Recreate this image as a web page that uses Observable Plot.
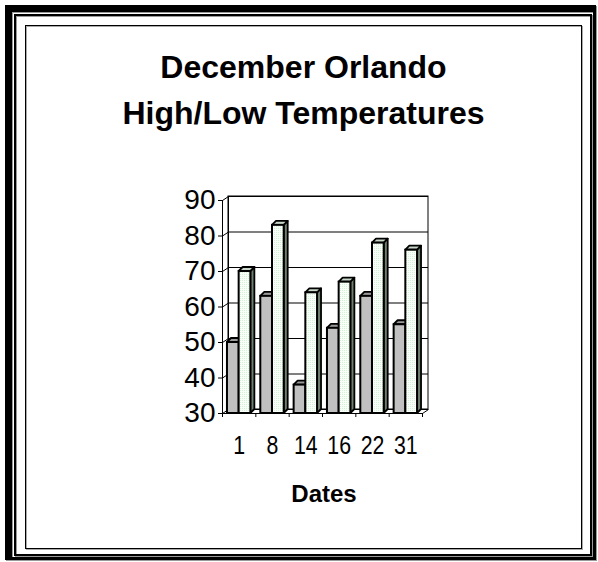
<!DOCTYPE html>
<html>
<head>
<meta charset="utf-8">
<script src="https://cdn.jsdelivr.net/npm/d3@7"></script>
<script src="https://cdn.jsdelivr.net/npm/@observablehq/plot@0.6"></script>
<style>
  html, body { margin: 0; padding: 0; background: #fff; }
  body { width: 598px; height: 562px; position: relative; overflow: hidden; font-family: "Liberation Sans", Arial, sans-serif; }
  .frame { position: absolute; box-sizing: border-box; }
  #outer { left: 5px; top: 5px; width: 591px; height: 555px; border-style: solid; border-color: #000; border-width: 7px 3px 3px 7px; box-shadow: inset 1px 1px 0 #999, 1px 1px 0 #999; }
  #middle { left: 14px; top: 14px; width: 578px; height: 542px; border: 2px solid #000; box-shadow: inset 1px 1px 0 #999, 1px 1px 0 #999; }
  #inner { left: 25px; top: 25px; width: 557px; height: 524px; border: 1px solid #000; box-shadow: inset 1px 1px 0 #aaa, 1px 1px 0 #aaa; }
  .title { position: absolute; left: 26px; width: 555px; text-align: center; font-weight: bold; font-size: 32px; line-height: 32px; color: #000; white-space: nowrap; }
  #xlabel { position: absolute; left: 224px; width: 200px; top: 482px; text-align: center; font-weight: bold; font-size: 24px; line-height: 24px; }
  #chart { position: absolute; left: 150px; top: 180px; }
</style>
</head>
<body>
<div class="frame" id="outer"></div>
<div class="frame" id="middle"></div>
<div class="frame" id="inner"></div>
<div class="title" style="top:51px">December Orlando</div>
<div class="title" style="top:97px">High/Low Temperatures</div>
<div id="chart"></div>
<div id="xlabel">Dates</div>
<script>
// ---- data ----
const dates = ["1", "8", "14", "16", "22", "31"];
const lowTemps = [50, 63, 38, 54, 63, 55];
const highTemps = [70, 83, 64, 67, 78, 76];
const yTicks = [30, 40, 50, 60, 70, 80, 90];

// ---- layout constants (pixel sizes converted to data units) ----
const W = 300, H = 260, ML = 72, MR = 28, MT = 20, MB = 27;
const PX = (W - ML - MR) / dates.length;   // px per category unit
const PY = (H - MT - MB) / (90 - 30);      // px per degree
const WX = 6 / PX, WY = 4 / PY;            // wall depth
const BDX = 4 / PX, BDY = 4 / PY;          // bar depth
const BW = 11.7 / PX;                      // bar width
const BASE = 30;

function barsFor(values, series) {
  return values.map((v, i) => {
    const xl = series === "low" ? i + 0.5 - BW : i + 0.5;
    return {i, series, v, xl, xr: xl + BW};
  });
}
const lowBars = barsFor(lowTemps, "low");
const highBars = barsFor(highTemps, "high");

function sides(bars) {
  return bars.flatMap(b => [
    {key: b.series + b.i, x: b.xr, y1: BASE, y2: b.v},
    {key: b.series + b.i, x: b.xr + BDX, y1: BASE + BDY, y2: b.v + BDY}
  ]);
}
function tops(bars) {
  return bars.flatMap(b => [
    {key: b.series + b.i, y: b.v, x1: b.xl, x2: b.xr},
    {key: b.series + b.i, y: b.v + BDY, x1: b.xl + BDX, x2: b.xr + BDX}
  ]);
}

const colors = {
  lowFront: "#c0c0c0", lowTop: "#9a9a9a", lowSide: "#7e7e7e",
  highFront: "url(#hiPattern)", highTop: "#c8d6c8", highSide: "#6f7f6f"
};

function barMarks(bars, front, top, side) {
  return [
    Plot.areaY(sides(bars), {x: "x", y1: "y1", y2: "y2", z: "key", fill: side, stroke: "#000", strokeWidth: 1.8, strokeLinejoin: "round"}),
    Plot.areaX(tops(bars), {y: "y", x1: "x1", x2: "x2", z: "key", fill: top, stroke: "#000", strokeWidth: 1.8, strokeLinejoin: "round"}),
    Plot.rect(bars, {x1: "xl", x2: "xr", y1: BASE, y2: "v", fill: front, stroke: "#000", strokeWidth: 2})
  ];
}

const chart = Plot.plot({
  width: W, height: H,
  marginLeft: ML, marginRight: MR, marginTop: MT, marginBottom: MB,
  style: {fontFamily: "'Liberation Sans', Arial, sans-serif", fontSize: "28px", color: "#000", background: "transparent", overflow: "visible"},
  x: {domain: [0, dates.length], ticks: dates.map((d, i) => i + 0.5), tickFormat: v => dates[Math.floor(v)], tickSize: 0, tickPadding: 22, label: null},
  y: {domain: [30, 90], ticks: yTicks, tickSize: 4, tickPadding: 3, label: null},
  marks: [
    // back wall
    Plot.rect([0], {x1: WX, x2: dates.length + WX, y1: 30 + WY, y2: 90 + WY, fill: "#fff", stroke: "#000", strokeWidth: 1}),
    Plot.ruleY(yTicks, {y: d => d + WY, x1: WX, x2: dates.length + WX, stroke: "#000", strokeWidth: 1.2}),
    // left wall gridlines
    Plot.link(yTicks, {x1: 0, y1: d => d, x2: WX, y2: d => d + WY, stroke: "#000", strokeWidth: 1}),
    Plot.ruleX([WX], {y1: 30 + WY, y2: 90 + WY, stroke: "#000", strokeWidth: 1}),
    // floor right edge
    Plot.link([0], {x1: dates.length, y1: 30, x2: dates.length + WX, y2: 30 + WY, stroke: "#000", strokeWidth: 1}),
    // bars
    ...barMarks(lowBars, colors.lowFront, colors.lowTop, colors.lowSide),
    ...barMarks(highBars, colors.highFront, colors.highTop, colors.highSide),
    // front axes
    Plot.ruleX([0], {y1: 30, y2: 90, stroke: "#000", strokeWidth: 1}),
    Plot.ruleY([30], {x1: 0, x2: dates.length, stroke: "#000", strokeWidth: 1}),
    Plot.ruleX(d3.range(dates.length + 1), {y1: 30, y2: 30 - 4 / PY, stroke: "#000", strokeWidth: 1})
  ]
});

// pattern for high bars
const ns = "http://www.w3.org/2000/svg";
const defs = document.createElementNS(ns, "defs");
defs.innerHTML = `<pattern id="hiPattern" width="2" height="2" patternUnits="userSpaceOnUse">
  <rect width="2" height="2" fill="#f8fff8"/>
  <rect width="1" height="1" fill="#d6f2d6"/>
</pattern>`;
chart.insertBefore(defs, chart.firstChild);

// condensed x tick labels
chart.querySelectorAll('g[aria-label^="x-axis"] text').forEach(t => {
  t.setAttribute("font-size", "26");
  t.setAttribute("transform", ((t.getAttribute("transform") || "") + " scale(0.82,1)").trim());
});

document.getElementById("chart").appendChild(chart);
</script>
</body>
</html>
